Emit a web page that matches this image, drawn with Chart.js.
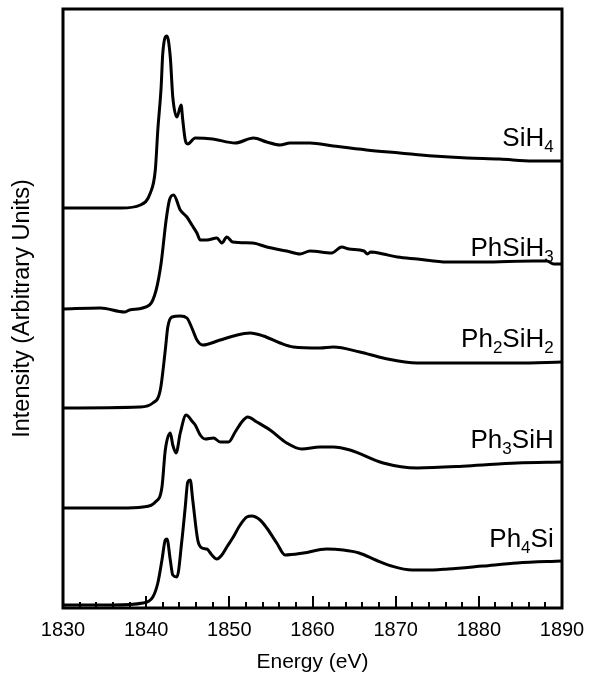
<!DOCTYPE html>
<html lang="en">
<head>
  <meta charset="UTF-8" />
  <title>Si K-edge XANES</title>
  <script src="https://cdn.jsdelivr.net/npm/chart.js"></script>
  <style>
    html, body { margin: 0; padding: 0; background: #fff; overflow: hidden; }
    canvas { display: block; }
  </style>
</head>
<body>
  <canvas id="chart" width="589" height="678"></canvas>

  <script>
    // energies (eV) and stacked intensities (arbitrary, offset per compound)
    const sih4Energy = [1830, 1834, 1837, 1839.3, 1840.5, 1841.1, 1841.4, 1841.8, 1842.0, 1842.5, 1842.9, 1843.2, 1843.7, 1844.2, 1844.4, 1844.7, 1845.0, 1845.9, 1848.0, 1850.7, 1852.9, 1854.5, 1856.1, 1857.3, 1859.7, 1862.5, 1866.5, 1870.5, 1874.5, 1878.6, 1882.5, 1886.5, 1890];
    const sih4Intensity = [400, 400, 400, 403, 415, 438, 478, 521, 555, 572, 551, 511, 491, 503, 488, 468, 464, 470, 469, 465, 470, 466, 463, 465, 465, 462, 458, 455, 452, 450, 449, 447, 447];

    const phsih3Energy = [1830, 1834.5, 1837.4, 1838.0, 1840.4, 1841.2, 1841.8, 1842.4, 1842.8, 1843.3, 1844.1, 1844.9, 1845.5, 1846.1, 1846.5, 1847.3, 1848.5, 1849.1, 1849.7, 1850.4, 1852.8, 1854.5, 1856.9, 1858.5, 1859.7, 1862.3, 1863.5, 1864.4, 1866.2, 1866.6, 1867.0, 1868.5, 1870.2, 1872.6, 1876.2, 1880.5, 1886.5, 1888.2, 1889.0, 1890];
    const phsih3Intensity = [299, 300, 296, 298, 303, 318, 345, 388, 408, 413, 398, 391, 383, 375, 368, 368, 370, 365, 371, 366, 365, 361, 357, 354, 357, 355, 361, 359, 357, 354, 356, 354, 351, 349, 346, 346, 347, 347, 344, 344];

    const ph2sih2Energy = [1830, 1839.2, 1840.8, 1841.7, 1842.3, 1842.6, 1843.1, 1844.1, 1844.9, 1845.5, 1846.1, 1846.8, 1848.9, 1850.5, 1852.5, 1854.1, 1856.1, 1857.7, 1860.9, 1862.5, 1865.7, 1868.5, 1872.6, 1878.6, 1884.6, 1890];
    const ph2sih2Intensity = [200, 201, 205, 218, 258, 281, 291, 292, 290, 280, 268, 263, 268, 272, 275, 272, 265, 261, 260, 261, 256, 250, 245, 245, 245, 246];

    const ph3sihEnergy = [1830, 1837, 1839.6, 1841.1, 1841.9, 1842.3, 1842.9, 1843.2, 1843.6, 1844.1, 1844.8, 1845.6, 1845.9, 1846.5, 1847.1, 1848.1, 1848.9, 1849.9, 1850.7, 1851.5, 1852.2, 1853.3, 1854.9, 1856.9, 1858.7, 1860.9, 1862.5, 1864.5, 1868.5, 1872.6, 1878.6, 1884.6, 1890];
    const ph3sihIntensity = [100, 100, 101, 106, 121, 158, 175, 163, 155, 175, 193, 186, 183, 173, 169, 170, 166, 166, 176, 186, 191, 186, 178, 165, 159, 161, 161, 158, 145, 140, 142, 145, 146];

    const ph4siEnergy = [1830, 1836, 1839.6, 1840.8, 1841.4, 1841.9, 1842.3, 1842.5, 1842.9, 1843.2, 1843.7, 1844.3, 1844.7, 1845.0, 1845.3, 1845.6, 1846.2, 1846.7, 1847.3, 1847.9, 1848.5, 1849.1, 1849.7, 1850.4, 1851.3, 1852.1, 1852.7, 1853.7, 1854.5, 1855.7, 1856.7, 1858.9, 1861.7, 1863.7, 1865.6, 1867.6, 1869.5, 1872.0, 1874.5, 1876.3, 1880.5, 1884.6, 1890];
    const ph4siIntensity = [3, 3, 5, 11, 25, 48, 68, 69, 48, 33, 31, 68, 101, 126, 128, 108, 68, 60, 59, 53, 49, 53, 61, 70, 83, 91, 92, 88, 80, 65, 53, 55, 59, 58, 55, 48, 42, 38, 38, 39, 42, 45, 47];

    const xTicks = [1830, 1840, 1850, 1860, 1870, 1880, 1890];

    // compound names; digits are drawn as subscripts
    const compoundNames = ['SiH4', 'PhSiH3', 'Ph2SiH2', 'Ph3SiH', 'Ph4Si'];
    const labelBaselines = [462, 352, 261, 160, 61];

    const FONT = "'Liberation Sans', Arial, sans-serif";

    function pairs(xs, ys) {
      return xs.map((x, i) => ({ x: x, y: ys[i] }));
    }

    function lineSet(label, xs, ys) {
      return {
        label: label,
        data: pairs(xs, ys),
        borderColor: '#000',
        borderWidth: 3,
        pointRadius: 0,
        fill: false,
        cubicInterpolationMode: 'monotone'
      };
    }

    // frame round the plot + inward tick marks on the energy axis
    const frameAndTicks = {
      id: 'frameAndTicks',
      afterDraw(chart) {
        const { ctx, chartArea: a, scales: { x } } = chart;
        ctx.save();
        ctx.strokeStyle = '#000';
        ctx.lineWidth = 2;
        for (let e = 1832; e < 1890; e += 2) {
          const px = Math.round(x.getPixelForValue(e));
          const len = e % 10 === 0 ? 12 : 6;
          ctx.beginPath();
          ctx.moveTo(px, a.bottom);
          ctx.lineTo(px, a.bottom - len);
          ctx.stroke();
        }
        ctx.lineWidth = 3;
        ctx.strokeRect(a.left, a.top, a.right - a.left, a.bottom - a.top);
        ctx.restore();
      }
    };

    const compoundLabels = {
      id: 'compoundLabels',
      afterDatasetsDraw(chart) {
        const { ctx, scales: { x, y } } = chart;
        ctx.save();
        ctx.fillStyle = '#000';
        ctx.textBaseline = 'alphabetic';
        compoundNames.forEach((name, i) => {
          const parts = name.match(/\d+|\D+/g);
          let right = x.getPixelForValue(1889);
          const base = y.getPixelForValue(labelBaselines[i]);
          for (let k = parts.length - 1; k >= 0; k--) {
            const sub = /\d/.test(parts[k]);
            ctx.font = (sub ? '17px ' : '26px ') + FONT;
            const w = ctx.measureText(parts[k]).width;
            ctx.fillText(parts[k], right - w, sub ? base + 6 : base);
            right -= w;
          }
        });
        ctx.restore();
      }
    };

    new Chart(document.getElementById('chart'), {
      type: 'line',
      data: {
        datasets: [
          lineSet('SiH4', sih4Energy, sih4Intensity),
          lineSet('PhSiH3', phsih3Energy, phsih3Intensity),
          lineSet('Ph2SiH2', ph2sih2Energy, ph2sih2Intensity),
          lineSet('Ph3SiH', ph3sihEnergy, ph3sihIntensity),
          lineSet('Ph4Si', ph4siEnergy, ph4siIntensity)
        ]
      },
      options: {
        responsive: false,
        animation: false,
        devicePixelRatio: 1,
        layout: { padding: { top: 9, right: 27, left: 0, bottom: 0 } },
        plugins: {
          legend: { display: false },
          tooltip: { enabled: false }
        },
        scales: {
          x: {
            type: 'linear',
            min: 1830,
            max: 1890,
            afterBuildTicks: (s) => { s.ticks = xTicks.map(v => ({ value: v })); },
            afterFit: (s) => {
              s.height = 70;
              // edge labels may overhang; the layout padding handles it
              s.paddingLeft = 0;
              s.paddingRight = 0;
            },
            grid: { display: false, drawTicks: false },
            border: { display: false },
            ticks: {
              color: '#000',
              padding: 10,
              maxRotation: 0,
              callback: (v) => String(v),
              font: { family: FONT, size: 20 }
            },
            title: {
              display: true,
              text: 'Energy (eV)',
              color: '#000',
              font: { family: FONT, size: 21 },
              padding: { top: 0, bottom: 3 }
            }
          },
          y: {
            min: 0,
            max: 599,
            afterFit: (s) => { s.width = 63; },
            grid: { display: false, drawTicks: false },
            border: { display: false },
            ticks: { display: false },
            title: {
              display: true,
              text: 'Intensity (Arbitrary Units)',
              color: '#000',
              font: { family: FONT, size: 23.5 },
              padding: { top: 8, bottom: 0 }
            }
          }
        }
      },
      plugins: [frameAndTicks, compoundLabels]
    });
  </script>
</body>
</html>
